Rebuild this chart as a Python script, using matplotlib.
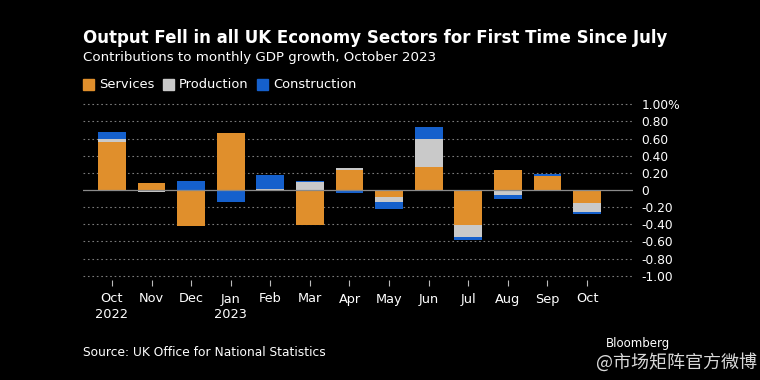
import matplotlib
matplotlib.use("Agg")
import matplotlib.pyplot as plt
import numpy as np

months = ["Oct\n2022", "Nov", "Dec", "Jan\n2023", "Feb", "Mar", "Apr", "May", "Jun", "Jul", "Aug", "Sep", "Oct"]
services =     [0.565, 0.08, -0.42, 0.66, 0.0, -0.41, 0.23, -0.085, 0.27, -0.41, 0.23, 0.16, -0.155]
production =   [0.03, -0.02, 0.0, 0.0, 0.01, 0.09, 0.03, -0.06, 0.32, -0.135, -0.06, 0.0, -0.10]
construction = [0.085, 0.0, 0.11, -0.14, 0.16, 0.01, -0.04, -0.08, 0.15, -0.04, -0.05, 0.03, -0.03]
yticks = [1.0, 0.8, 0.6, 0.4, 0.2, 0, -0.2, -0.4, -0.6, -0.8, -1.0]
ytick_labels = ["1.00%", "0.80", "0.60", "0.40", "0.20", "0", "-0.20", "-0.40", "-0.60", "-0.80", "-1.00"]

C_SERV = "#E08F2C"
C_PROD = "#C9C9C9"
C_CONS = "#1560CC"

plt.rcParams['font.family'] = ['DejaVu Sans']
fig = plt.figure(figsize=(7.6, 3.8), dpi=100, facecolor="black")
ax = fig.add_axes([83/760, 1-280/380, (633-83)/760, (280-100)/380])
ax.set_facecolor("black")

x = np.arange(len(months))
w = 0.7
pos_base = np.zeros(len(x))
neg_base = np.zeros(len(x))
for vals, col in [(services, C_SERV), (production, C_PROD), (construction, C_CONS)]:
    vals = np.array(vals, dtype=float)
    bottoms = np.where(vals >= 0, pos_base, neg_base)
    ax.bar(x, vals, w, bottom=bottoms, color=col, edgecolor="none", zorder=3)
    pos_base += np.where(vals >= 0, vals, 0)
    neg_base += np.where(vals < 0, vals, 0)

ax.set_xlim(-0.73, 13.16)
ax.set_ylim(-1.05, 1.05)
for t in yticks:
    if t == 0:
        ax.axhline(0, color="#8a8a8a", lw=0.9, zorder=4)
    else:
        ax.axhline(t, color="#7a7a7a", lw=0.8, ls=(0, (1.5, 2.5)), zorder=1)

ax.yaxis.tick_right()
ax.set_yticks(yticks)
ax.set_yticklabels(ytick_labels)
ax.tick_params(axis="y", length=0, pad=6, labelcolor="white", labelsize=8.8)
ax.set_xticks(x)
ax.set_xticklabels(months)
ax.tick_params(axis="x", length=4, color="#bbbbbb", labelcolor="white", labelsize=9.3, pad=5)
for s in ax.spines.values():
    s.set_visible(False)

fig.text(83/760, 1-38/380, "Output Fell in all UK Economy Sectors for First Time Since July",
         color="white", fontsize=12, fontweight="bold", va="center")
fig.text(83/760, 1-58/380, "Contributions to monthly GDP growth, October 2023",
         color="white", fontsize=9.6, va="center")

# legend
for lx, label, col in [(83, "Services", C_SERV), (163, "Production", C_PROD), (257, "Construction", C_CONS)]:
    fig.patches.append(plt.Rectangle((lx/760, 1-90/380), 11/760, 11/380, color=col, transform=fig.transFigure, figure=fig))
    fig.text((lx+16)/760, 1-84/380, label, color="white", fontsize=9.4, va="center")

fig.text(83/760, 1-353/380, "Source: UK Office for National Statistics", color="white", fontsize=8.8, va="center")
fig.text(670/760, 1-344/380, "Bloomberg", color="white", fontsize=8.5, ha="right", va="center")
fig.text(757/760, 1-362/380, "@市场矩阵官方微博", color="white", fontsize=13, ha="right", va="center",
         family=["Noto Sans CJK SC", "DejaVu Sans"], alpha=0.85)

fig.savefig("out.png", dpi=100, facecolor="black")
